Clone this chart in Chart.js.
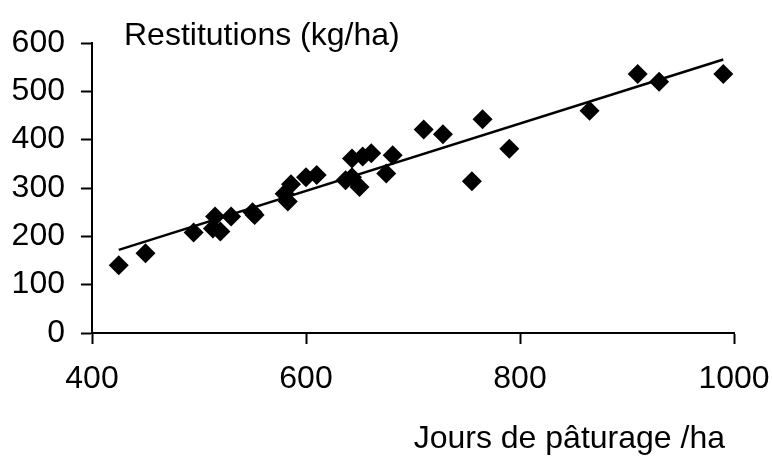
<!DOCTYPE html>
<html>
<head>
<meta charset="utf-8">
<script src="https://cdn.jsdelivr.net/npm/chart.js@4"></script>
<style>
  html, body { margin: 0; padding: 0; background: #fff; }
  #wrap { width: 772px; height: 456px; }
</style>
</head>
<body>
<div id="wrap"><canvas id="restitChart" width="772" height="456"></canvas></div>
<script>
"use strict";

// data
var jours = [425, 450, 495, 513, 515, 520, 530, 550, 552, 580, 583, 586, 600, 610,
             637, 643, 650, 643, 653, 661, 675, 681, 710, 728, 755, 765, 790, 865,
             910, 930, 990];
var restitutions = [140, 165, 208, 216, 241, 210, 241, 250, 244, 288, 272, 308, 322, 327,
                    316, 322, 302, 361, 365, 372, 330, 368, 421, 411, 314, 442, 381, 460,
                    536, 520, 536];
var trendX = [425, 990];
var trendY = [172, 566];
var xTicks = [400, 600, 800, 1000];
var yTicks = [0, 100, 200, 300, 400, 500, 600];

var FONT = "'Liberation Sans', Arial, sans-serif";
var FONT_SIZE = 32;

function pairs(xs, ys) {
    return xs.map(function (x, i) { return { x: x, y: ys[i] }; });
}

// axis captions: y caption inside the plot top left, x caption under the axis, right side
var captionPlugin = {
    id: 'captions',
    afterDraw: function (chart) {
        var ctx = chart.ctx;
        var area = chart.chartArea;
        ctx.save();
        ctx.font = FONT_SIZE + "px " + FONT;
        ctx.fillStyle = '#000';
        ctx.textBaseline = 'alphabetic';
        ctx.textAlign = 'left';
        ctx.fillText('Restitutions (kg/ha)', area.left + 32, area.top + 2);
        ctx.textAlign = 'right';
        ctx.fillText('Jours de pâturage /ha', area.right - 9, area.bottom + 115);
        ctx.restore();
    }
};

var ctx = document.getElementById('restitChart').getContext('2d');
var chart = new Chart(ctx, {
    type: 'scatter',
    data: {
        datasets: [{
            label: 'Restitutions',
            data: pairs(jours, restitutions),
            pointStyle: 'rectRot',
            pointRadius: 10,
            pointHoverRadius: 10,
            backgroundColor: '#000',
            borderColor: '#000',
            borderWidth: 0
        }, {
            label: 'Tendance',
            type: 'line',
            data: pairs(trendX, trendY),
            borderColor: '#000',
            borderWidth: 2.5,
            pointRadius: 0,
            fill: false
        }]
    },
    options: {
        responsive: false,
        animation: false,
        layout: { padding: { left: 0, right: 38, top: 43, bottom: 0 } },
        plugins: {
            legend: { display: false },
            tooltip: { enabled: false }
        },
        scales: {
            x: {
                type: 'linear',
                min: 400,
                max: 1000,
                afterBuildTicks: function (scale) {
                    scale.ticks = xTicks.map(function (v) { return { value: v }; });
                },
                afterFit: function (scale) {
                    scale.height = 123;
                    scale.paddingLeft = 0;
                    scale.paddingRight = 0;
                },
                ticks: {
                    color: '#000',
                    font: { family: FONT, size: FONT_SIZE },
                    padding: 16,
                    maxRotation: 0,
                    callback: function (v) { return String(v); }
                },
                grid: { drawOnChartArea: false, tickLength: 11, tickColor: '#000', tickWidth: 2 },
                border: { display: true, color: '#000', width: 2 }
            },
            y: {
                type: 'linear',
                min: 0,
                max: 600,
                afterBuildTicks: function (scale) {
                    scale.ticks = yTicks.map(function (v) { return { value: v }; });
                },
                afterFit: function (scale) {
                    scale.width = 92;
                    scale.paddingTop = 0;
                    scale.paddingBottom = 0;
                },
                ticks: {
                    color: '#000',
                    font: { family: FONT, size: FONT_SIZE },
                    padding: 16,
                    callback: function (v) { return String(v); }
                },
                grid: { drawOnChartArea: false, tickLength: 11, tickColor: '#000', tickWidth: 2 },
                border: { display: true, color: '#000', width: 2 }
            }
        }
    },
    plugins: [captionPlugin]
});
</script>
</body>
</html>
